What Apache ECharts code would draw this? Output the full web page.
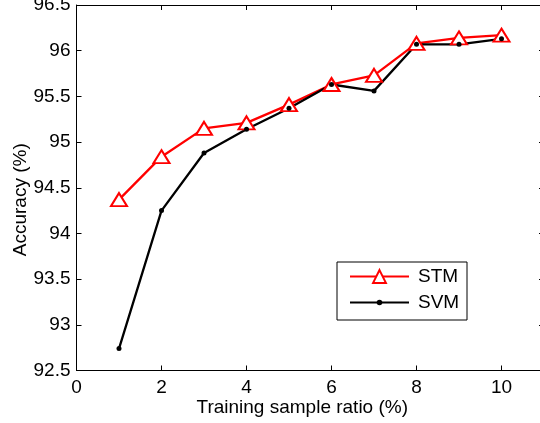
<!DOCTYPE html>
<html>
<head>
<meta charset="utf-8">
<script src="https://cdn.jsdelivr.net/npm/echarts@6/dist/echarts.min.js"></script>
<style>
html,body{margin:0;padding:0;background:#fff;}
#c{width:540px;height:423px;}
</style>
</head>
<body>
<div id="c"></div>
<script>
var xValues = [1, 2, 3, 4, 5, 6, 7, 8, 9, 10];
var stm = [94.37, 94.84, 95.15, 95.21, 95.41, 95.63, 95.73, 96.08, 96.14, 96.17];
var svm = [92.74, 94.25, 94.88, 95.14, 95.37, 95.63, 95.56, 96.07, 96.07, 96.13];
var seriesNames = ['STM', 'SVM'];
var xTitle = 'Training sample ratio (%)';
var yTitle = 'Accuracy (%)';

function pairs(ys) { return xValues.map(function (x, i) { return [x, ys[i]]; }); }

var font = 'Liberation Sans, Arial, sans-serif';
var fs = 19;
var axisLine = { show: true, onZero: false, lineStyle: { color: '#000', width: 1 } };
var tick = { show: true, inside: true, length: 5, lineStyle: { color: '#000', width: 1 } };
var legendText = { fontFamily: font, fontSize: fs, color: '#000', padding: [0, 0, 0, 4] };

var chart = echarts.init(document.getElementById('c'), null, { renderer: 'canvas' });
chart.setOption({
  animation: false,
  backgroundColor: '#fff',
  grid: { left: 76.5, top: 5, width: 467.5, height: 365.5, containLabel: false, outerBoundsMode: 'none' },
  graphic: [{
    type: 'rect', left: 336.5, top: 261.5, z: 50,
    shape: { width: 130, height: 58 },
    style: { fill: '#fff', stroke: '#000', lineWidth: 1 }
  }],
  legend: [{
    data: [seriesNames[0]], orient: 'vertical', left: 349, top: 267, padding: 0,
    itemWidth: 59, itemHeight: 16, z: 60, textStyle: legendText
  }, {
    data: [seriesNames[1]], orient: 'vertical', left: 349, top: 293, padding: 0,
    itemWidth: 59, itemHeight: 7, z: 60, textStyle: legendText
  }],
  xAxis: [{
    type: 'value', min: 0, max: 11, interval: 2, position: 'bottom',
    name: xTitle, nameLocation: 'middle', nameGap: 28, nameMoveOverlap: false,
    nameTextStyle: { fontFamily: font, fontSize: fs, color: '#000', padding: [0, 16, 0, 0] },
    axisLine: axisLine, axisTick: tick,
    axisLabel: { fontFamily: font, fontSize: fs, color: '#000', margin: 8, showMaxLabel: false },
    splitLine: { show: false }
  }, {
    type: 'value', min: 0, max: 11, interval: 2, position: 'top',
    axisLine: axisLine, axisTick: tick, axisLabel: { show: false }, splitLine: { show: false }
  }],
  yAxis: [{
    type: 'value', min: 92.5, max: 96.5, interval: 0.5, position: 'left',
    name: yTitle, nameLocation: 'middle', nameGap: 46, nameRotate: 90, nameMoveOverlap: false,
    nameTextStyle: { fontFamily: font, fontSize: fs, color: '#000', padding: [0, 24, 0, 0] },
    axisLine: axisLine, axisTick: tick,
    axisLabel: { fontFamily: font, fontSize: fs, color: '#000', margin: 6 },
    splitLine: { show: false }
  }, {
    type: 'value', min: 92.5, max: 96.5, interval: 0.5, position: 'right',
    axisLine: axisLine, axisTick: tick, axisLabel: { show: false }, splitLine: { show: false }
  }],
  series: [{
    name: seriesNames[0], type: 'line', data: pairs(stm),
    symbol: 'triangle', symbolSize: [16, 13],
    lineStyle: { color: '#ff0000', width: 2.3 },
    itemStyle: { color: '#ffffff', borderColor: '#ff0000', borderWidth: 2 }
  }, {
    name: seriesNames[1], type: 'line', data: pairs(svm),
    symbol: 'circle', symbolSize: 5,
    lineStyle: { color: '#000000', width: 2.3 },
    itemStyle: { color: '#000000', borderColor: '#000000', borderWidth: 0 }
  }]
});
</script>
</body>
</html>
